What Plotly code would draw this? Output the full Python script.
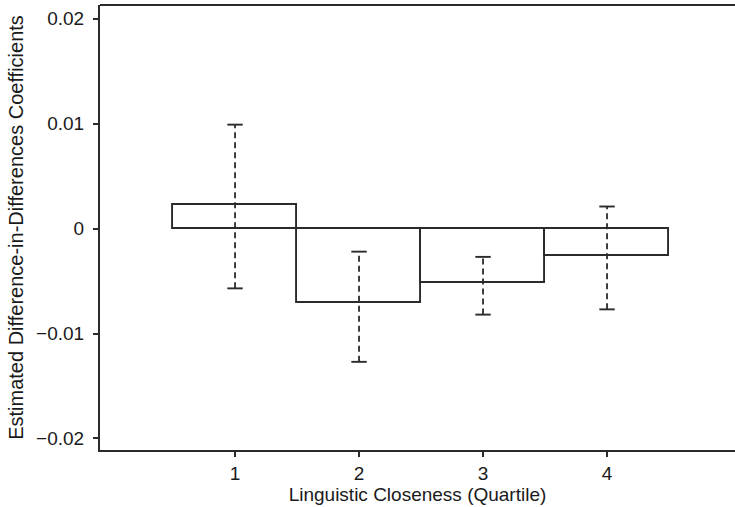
import plotly.graph_objects as go

quartiles = [1, 2, 3, 4]
coef = [0.0022, -0.0071, -0.0052, -0.0026]
ci_low = [-0.0057, -0.0127, -0.0082, -0.0077]
ci_high = [0.0099, -0.0022, -0.0027, 0.0021]
y_ticks = [-0.02, -0.01, 0, 0.01, 0.02]
y_tick_labels = ["\u22120.02", "\u22120.01", "0", "0.01", "0.02"]
x_tick_labels = ["1", "2", "3", "4"]

LINE = "#2b2b2b"
fig = go.Figure()

fig.add_trace(go.Bar(
    x=quartiles, y=coef, width=1.0,
    marker=dict(color="white", line=dict(color=LINE, width=1.9)),
    showlegend=False, hoverinfo="skip",
))

# dashed whiskers
wx, wy = [], []
for q, lo, hi in zip(quartiles, ci_low, ci_high):
    wx += [q, q, None]
    wy += [lo, hi, None]
fig.add_trace(go.Scatter(
    x=wx, y=wy, mode="lines",
    line=dict(color=LINE, width=1.8, dash="6px,4px"),
    showlegend=False, hoverinfo="skip",
))
# caps
fig.add_trace(go.Scatter(
    x=quartiles + quartiles, y=ci_low + ci_high, mode="markers",
    marker=dict(symbol="line-ew-open", size=11, color=LINE,
                line=dict(color=LINE, width=1.9)),
    showlegend=False, hoverinfo="skip",
))

font = "Liberation Sans, Arial, sans-serif"
fig.update_layout(
    width=735, height=507,
    margin=dict(l=100, r=0, t=5, b=57, autoexpand=False),
    paper_bgcolor="white", plot_bgcolor="white",
    font=dict(family=font, size=17, color="#1a1a1a"),
    bargap=0,
    xaxis=dict(
        range=[-0.089, 5.032],
        tickmode="array", tickvals=quartiles, ticktext=x_tick_labels,
        tickfont=dict(size=19),
        ticks="outside", ticklen=5, tickwidth=1.5, tickcolor=LINE,
        showline=True, linecolor=LINE, linewidth=2,
        showgrid=False, zeroline=False, automargin=False,
        title=dict(text="Linguistic Closeness (Quartile)", standoff=5,
                   font=dict(size=19)),
    ),
    yaxis=dict(
        range=[-0.0211, 0.0213],
        tickmode="array", tickvals=y_ticks, ticktext=y_tick_labels,
        tickfont=dict(size=19), ticklabelstandoff=5,
        ticks="outside", ticklen=5, tickwidth=1.5, tickcolor=LINE,
        showline=True, linecolor=LINE, linewidth=2,
        showgrid=False, zeroline=False, automargin=False,
        title=dict(text="Estimated Difference-in-Differences Coefficients", standoff=7,
                   font=dict(size=20)),
    ),
    shapes=[dict(type="line", xref="paper", yref="paper", x0=0, x1=1, y0=1, y1=1,
                 line=dict(color=LINE, width=2))],
)

fig.write_html(
    "out.html",
    config={"displayModeBar": False},
    post_script="document.body.style.margin='0';document.body.style.overflow='hidden';",
)
